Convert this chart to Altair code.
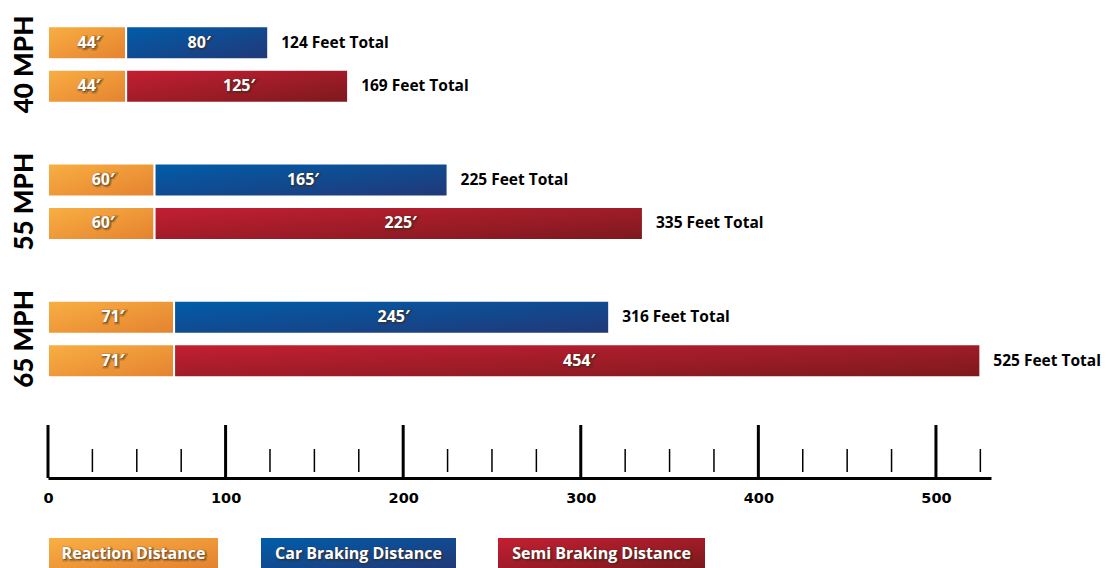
import altair as alt
import pandas as pd

speeds = ["40 MPH", "55 MPH", "65 MPH"]
reaction = [44, 60, 71]
car_braking = [80, 165, 245]
semi_braking = [125, 275, 454]          # bar lengths as drawn
reaction_labels = ["44\u2032", "60\u2032", "71\u2032"]
car_labels = ["80\u2032", "165\u2032", "245\u2032"]
semi_labels = ["125\u2032", "225\u2032", "454\u2032"]  # printed in the bars
car_totals = ["124 Feet Total", "225 Feet Total", "316 Feet Total"]
semi_totals = ["169 Feet Total", "335 Feet Total", "525 Feet Total"]
major_ticks = [0, 100, 200, 300, 400, 500]
minor_ticks = [25, 50, 75, 125, 150, 175, 225, 250, 275, 325, 350, 375, 425, 450, 475, 525]
legend_names = ["Reaction Distance", "Car Braking Distance", "Semi Braking Distance"]

rows = []
for i, s in enumerate(speeds):
    r = reaction[i]
    for veh, br, seg, lab, tot in (
        ("Car", car_braking[i], legend_names[1], car_labels[i], car_totals[i]),
        ("Semi", semi_braking[i], legend_names[2], semi_labels[i], semi_totals[i]),
    ):
        rows.append(dict(speed=s, vehicle=veh, segment=legend_names[0], start=0, end=r,
                         mid=r / 2, label=reaction_labels[i], total_label=tot))
        rows.append(dict(speed=s, vehicle=veh, segment=seg, start=r, end=r + br,
                         mid=r + br / 2, label=lab, total_label=tot))
df = pd.DataFrame(rows)

def grad(c0, c1):
    return alt.LinearGradient(
        gradient="linear",
        stops=[alt.GradientStop(color=c0, offset=0), alt.GradientStop(color=c1, offset=1)],
        x1=0, x2=1, y1=0, y2=1,
    )

gradients = {
    legend_names[0]: grad("#F9AF43", "#E4822F"),
    legend_names[1]: grad("#005DAA", "#213877"),
    legend_names[2]: grad("#C41F32", "#7C191E"),
}

FONT = "Open Sans"
xscale = alt.Scale(domain=[0, 531], nice=False, zero=True)
yscale = alt.Scale(domain=speeds, paddingInner=0.2714, paddingOuter=0.3479, align=0.068)
yoff = alt.Scale(domain=["Car", "Semi"], paddingInner=0.2414, paddingOuter=0.2701)

base = alt.Chart(df)
y_enc = alt.Y("speed:N", scale=yscale, axis=None)
yo_enc = alt.YOffset("vehicle:N", scale=yoff)

layers = []
for i, name in enumerate(legend_names):
    layers.append(
        base.transform_filter(alt.datum.segment == name)
        .mark_bar(color=gradients[name], stroke="white", strokeWidth=2)
        .encode(
            x=alt.X("start:Q", scale=xscale,
                    axis=alt.Axis(values=major_ticks, title=None, grid=False, ticks=False,
                                  tickSize=0, domainWidth=3, domainColor="black",
                                  labelFont="DejaVu Sans", labelFontWeight="bold",
                                  labelFontSize=14.5,
                                  labelColor="black", labelPadding=13, labelFlush=False)),
            x2="end:Q",
            y=y_enc,
            yOffset=yo_enc,
        )
    )

glow = base.mark_text(font=FONT, fontWeight="bold", fontSize=16, fill="#3a2a1a",
                      fillOpacity=0.45, stroke="#3a2a1a", strokeOpacity=0.3, strokeWidth=3,
                      dx=3, dy=1).encode(
    x=alt.X("mid:Q", scale=xscale), y=y_enc, yOffset=yo_enc, text="label:N")
bar_text = base.mark_text(font=FONT, fontWeight="bold", fontSize=16, color="white",
                          dx=2).encode(
    x=alt.X("mid:Q", scale=xscale), y=y_enc, yOffset=yo_enc, text="label:N")

totals = base.transform_filter(alt.datum.start > 0).mark_text(
    font=FONT, fontWeight="bold", fontSize=15.5, color="black", align="left", dx=13
).encode(x=alt.X("end:Q", scale=xscale), y=y_enc, yOffset=yo_enc, text="total_label:N")

speed_df = pd.DataFrame({"speed": speeds})
speed_lbl = alt.Chart(speed_df).mark_text(
    font="Lato", fontWeight=900, fontSize=26, color="black", angle=270,
    align="center", baseline="middle"
).encode(x=alt.value(-23), y=alt.Y("speed:N", scale=yscale, axis=None), text="speed:N")

maj = alt.Chart(pd.DataFrame({"v": major_ticks})).mark_rule(color="black", strokeWidth=3).encode(
    x=alt.X("v:Q", scale=xscale), y=alt.value(417), y2=alt.value(470))
mino = alt.Chart(pd.DataFrame({"v": minor_ticks})).mark_rule(color="black", strokeWidth=1.5).encode(
    x=alt.X("v:Q", scale=xscale), y=alt.value(441), y2=alt.value(464))

legend_px = [(1, 170), (213, 408), (450, 657)]
leg_layers = []
for name, (a, b) in zip(legend_names, legend_px):
    ldf = pd.DataFrame({"name": [name]})
    leg_layers.append(alt.Chart(ldf).mark_rect(color=gradients[name]).encode(
        x=alt.value(a), x2=alt.value(b), y=alt.value(530), y2=alt.value(560)))
    leg_layers.append(alt.Chart(ldf).mark_text(
        font=FONT, fontWeight="bold", fontSize=16, fill="#3a2a1a", fillOpacity=0.45,
        stroke="#3a2a1a", strokeOpacity=0.3, strokeWidth=3, dx=1, dy=1
    ).encode(x=alt.value((a + b) / 2), y=alt.value(546), text="name:N"))
    leg_layers.append(alt.Chart(ldf).mark_text(
        font=FONT, fontWeight="bold", fontSize=16, color="white"
    ).encode(x=alt.value((a + b) / 2), y=alt.value(546), text="name:N"))

chart = alt.layer(*layers, glow, bar_text, totals, speed_lbl, maj, mino, *leg_layers).properties(
    width=943, height=470,
    padding={"left": 40, "top": 0, "right": 112, "bottom": 90},
    autosize=alt.AutoSizeParams(type="none"),
).configure_view(stroke=None)

chart.save("out.html", embed_options={"renderer": "svg", "actions": False})
